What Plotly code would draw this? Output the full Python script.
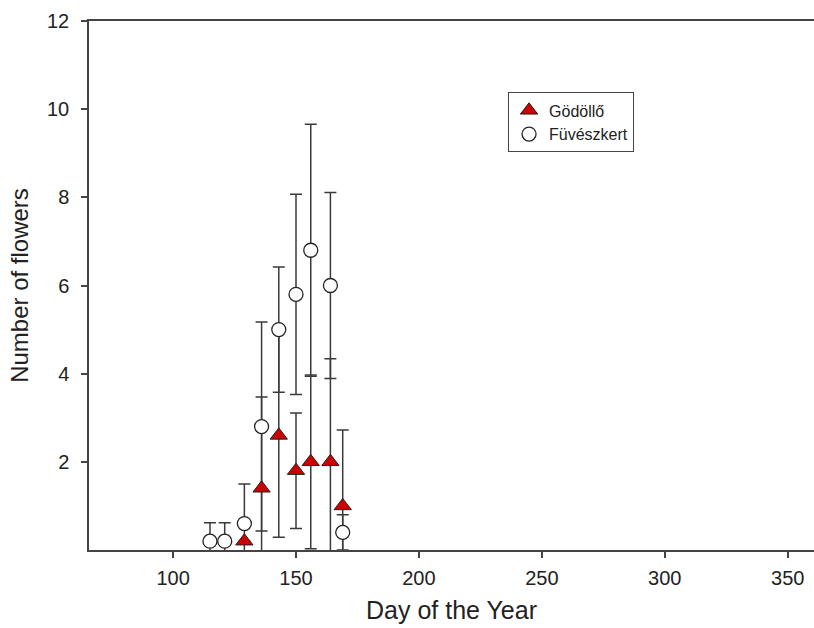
import plotly.graph_objects as go

# Data
days_godollo = [129, 136, 143, 150, 156, 164, 169]
mean_godollo = [0.2, 1.4, 2.6, 1.8, 2.0, 2.0, 1.0]
se_godollo = [0.0, 2.07, 2.31, 1.31, 1.97, 2.34, 1.72]

days_fuvesz = [115, 121, 129, 136, 143, 150, 156, 164, 169]
mean_fuvesz = [0.2, 0.2, 0.6, 2.8, 5.0, 5.8, 6.8, 6.0, 0.4]
se_fuvesz = [0.42, 0.42, 0.9, 2.37, 1.42, 2.27, 2.86, 2.11, 0.4]

x_ticks = [100, 150, 200, 250, 300, 350]
y_ticks = [2, 4, 6, 8, 10, 12]

FONT = "Liberation Sans, Arial, sans-serif"
AXIS = "#444444"
ERR = "#3a3a3a"

fig = go.Figure()

# error bars first (below all markers)
for xs, ys, es in [(days_godollo, mean_godollo, se_godollo),
                   (days_fuvesz, mean_fuvesz, se_fuvesz)]:
    fig.add_trace(go.Scatter(
        x=xs, y=ys, mode="markers",
        marker=dict(size=1, color="rgba(0,0,0,0)"),
        error_y=dict(type="data", array=es, symmetric=True,
                     color=ERR, thickness=1.5, width=6),
        showlegend=False, hoverinfo="skip"))

fig.add_trace(go.Scatter(
    x=days_godollo, y=mean_godollo, mode="markers", name="Gödöllő",
    marker=dict(symbol="triangle-up", size=15, color="#cc0000",
                line=dict(color="#222222", width=1))))

fig.add_trace(go.Scatter(
    x=days_fuvesz, y=mean_fuvesz, mode="markers", name="Füvészkert",
    marker=dict(symbol="circle", size=14, color="white",
                line=dict(color="#222222", width=1.3))))

fig.update_layout(
    width=814, height=628,
    margin=dict(l=89, r=0, t=21, b=78),
    paper_bgcolor="white", plot_bgcolor="white",
    font=dict(family=FONT, color="#222222", size=20),
    showlegend=True,
    legend=dict(x=0.578, y=0.865, xanchor="left", yanchor="top",
                bgcolor="white", bordercolor="#444444", borderwidth=1,
                font=dict(size=16, family=FONT, color="#222222"),
                tracegroupgap=0, entrywidth=150, entrywidthmode="pixels"),
    xaxis=dict(range=[65.8, 360.7], tickvals=x_ticks,
               showgrid=False, zeroline=False,
               showline=True, linecolor=AXIS, linewidth=1.5, mirror=True,
               ticks="outside", ticklen=6, tickcolor=AXIS, tickwidth=1.5,
               tickfont=dict(size=20), ticklabelstandoff=3,
               title=dict(text="Day of the Year", font=dict(size=25), standoff=14)),
    yaxis=dict(range=[0, 12], tickvals=y_ticks,
               showgrid=False, zeroline=False,
               showline=True, linecolor=AXIS, linewidth=1.5, mirror=False,
               ticks="outside", ticklen=6, tickcolor=AXIS, tickwidth=1.5,
               tickfont=dict(size=20), ticklabelstandoff=8,
               title=dict(text="Number of flowers", font=dict(size=24), standoff=12)),
)

fig.write_html("out.html")
